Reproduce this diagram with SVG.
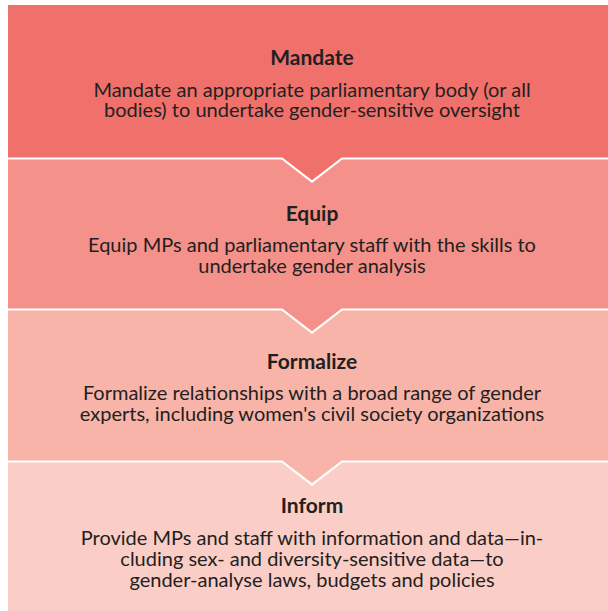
<svg xmlns="http://www.w3.org/2000/svg" width="608" height="611" viewBox="0 0 608 611">
<style>
.t{font-family:Lato,"Liberation Sans",sans-serif;font-size:21px;font-weight:700;fill:#231f20;text-anchor:middle}
.b{font-family:Lato,"Liberation Sans",sans-serif;font-size:20px;fill:#231f20;text-anchor:middle}
.sep{fill:none;stroke:#ffffff;stroke-width:2.2}
</style>
<rect width="608" height="611" fill="#ffffff"/>
<g id="inform">
<rect x="8" y="461.5" width="600" height="149.5" fill="#fbcdc7"/>
<text class="t" x="312" y="512.5">Inform</text>
<text class="b" x="312" y="544.5">Provide MPs and staff with information and data—in-</text>
<text class="b" x="312" y="566">cluding sex- and diversity-sensitive data—to</text>
<text class="b" x="312" y="587">gender-analyse laws, budgets and policies</text>
</g>
<g id="formalize">
<polygon points="8,309.5 608,309.5 608,461.5 342,461.5 312,484.5 282,461.5 8,461.5" fill="#f8b4a9"/>
<text class="t" x="312" y="368.5">Formalize</text>
<text class="b" x="312" y="400">Formalize relationships with a broad range of gender</text>
<text class="b" x="312" y="421">experts, including women's civil society organizations</text>
</g>
<g id="equip">
<polygon points="8,158.5 608,158.5 608,309.5 342,309.5 312,332.5 282,309.5 8,309.5" fill="#f4918a"/>
<text class="t" x="312" y="220.5">Equip</text>
<text class="b" x="312" y="252">Equip MPs and parliamentary staff with the skills to</text>
<text class="b" x="312" y="273">undertake gender analysis</text>
</g>
<g id="mandate">
<polygon points="8,5 608,5 608,158.5 342,158.5 312,181.5 282,158.5 8,158.5" fill="#f0706b"/>
<text class="t" x="312" y="65">Mandate</text>
<text class="b" x="312" y="96.5">Mandate an appropriate parliamentary body (or all</text>
<text class="b" x="312" y="117">bodies) to undertake gender-sensitive oversight</text>
</g>
<g id="connectors">
<polyline class="sep" points="8,158.5 282,158.5 312,181.5 342,158.5 608,158.5"/>
<polyline class="sep" points="8,309.5 282,309.5 312,332.5 342,309.5 608,309.5"/>
<polyline class="sep" points="8,461.5 282,461.5 312,484.5 342,461.5 608,461.5"/>
</g>
</svg>
